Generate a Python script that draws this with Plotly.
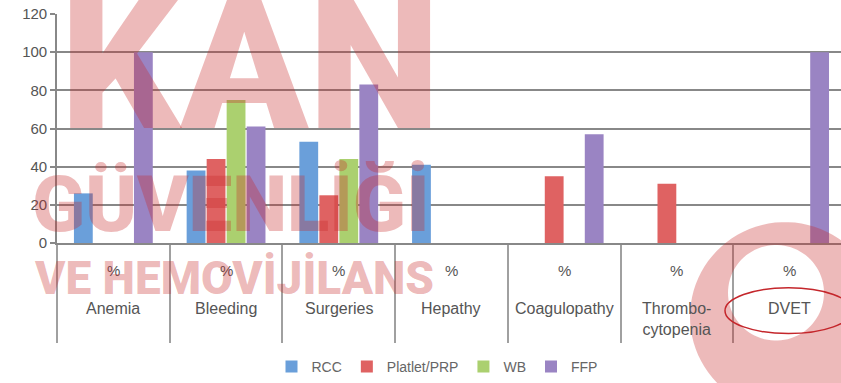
import numpy as np
import plotly.graph_objects as go

# ---------------- data ----------------
categories = ["Anemia", "Bleeding", "Surgeries", "Hepathy", "Coagulopathy",
              "Thrombo-<br>cytopenia", "DVET"]
unit_labels = ["%", "%", "%", "%", "%", "%", "%"]
series_names = ["RCC", "Platlet/PRP", "WB", "FFP"]
rcc = [26, 38, 53, 41, 0, 0, 0]
platelet = [0, 44, 25, 0, 35, 31, 0]
wb = [0, 75, 44, 0, 0, 0, 0]
ffp = [100, 61, 83, 0, 57, 0, 100]
y_ticks = [0, 20, 40, 60, 80, 100, 120]

colors = ["#6a9fda", "#df6262", "#abd06f", "#9a84c3"]
values = [rcc, platelet, wb, ffp]

# ---------------- layout helpers (pixel -> paper) ----------------
W, H = 841, 383
L, R, T, B = 57, 841, 14, 244


def px(x):
    return (x - L) / (R - L)


def py(y):
    return (B - y) / (B - T)


fig = go.Figure()
for name, vals, col in zip(series_names, values, colors):
    fig.add_trace(go.Bar(name=name, x=categories, y=vals, marker_color=col,
                         marker_line_width=0))

grid = "#888888"
fig.update_layout(
    width=W, height=H,
    margin=dict(l=L, r=W - R, t=T, b=H - B),
    paper_bgcolor="white", plot_bgcolor="white",
    barmode="group", bargap=0.29, bargroupgap=0.06,
    font=dict(family="Liberation Sans, Arial, sans-serif", color="#555555"),
    showlegend=True,
    legend=dict(orientation="h", x=px(437), xanchor="center", y=py(368),
                yanchor="middle", font=dict(size=14, color="#666666"),
                itemwidth=30, tracegroupgap=0),
)
fig.update_yaxes(range=[0, 120], tickvals=y_ticks, showgrid=True,
                 gridcolor=grid, gridwidth=1.6, showline=True, linecolor=grid,
                 linewidth=1.6, ticks="outside", ticklen=5, tickcolor=grid,
                 tickwidth=1.6, zeroline=False,
                 tickfont=dict(size=15, color="#555555"))
fig.update_xaxes(type="category", range=[-0.5, 6.456], showgrid=False,
                 showline=True, linecolor=grid, linewidth=1.6,
                 ticks="outside", tickson="boundaries", ticklen=98,
                 tickcolor="#a0a0a0", tickwidth=1.5, showticklabels=False)

# category labels (two levels)
for cat, unit in zip(categories, unit_labels):
    fig.add_annotation(x=cat, xref="x", y=py(261), yref="paper", text=unit,
                       showarrow=False, yanchor="top",
                       font=dict(size=15, color="#555555"))
    fig.add_annotation(x=cat, xref="x", y=py(299), yref="paper", text=cat,
                       showarrow=False, yanchor="top",
                       font=dict(size=16, color="#555555"))

# ---------------- watermark ----------------
wm = "rgba(200,40,40,0.32)"
wm_font = "Roboto, Liberation Sans, Arial, sans-serif"
for text, cx, cy, size in [("KAN", 250, 64, 188),
                           ("GÜVENLİĞİ", 231, 205, 78),
                           ("VE HEMOVİJİLANS", 234, 279, 46)]:
    fig.add_annotation(x=px(cx), y=py(cy), xref="paper", yref="paper",
                       text=text, showarrow=False,
                       xanchor="center", yanchor="middle",
                       font=dict(family=wm_font, size=size, color=wm,
                                 weight=900))


def circle_pts(cx, cy, r, n=90, reverse=False):
    t = np.linspace(0, 2 * np.pi, n, endpoint=False)
    if reverse:
        t = t[::-1]
    xs = px(cx + r * np.cos(t))
    ys = py(cy + r * np.sin(t))
    pts = " L ".join(f"{a:.5f},{b:.5f}" for a, b in zip(xs, ys))
    return "M " + pts + " Z"


crescent = circle_pts(785, 318, 95) + " " + circle_pts(776, 294, 48, reverse=True)
fig.add_shape(type="path", path=crescent, xref="paper", yref="paper",
              fillcolor=wm, line_width=0, layer="above")

# red ellipse around DVET
fig.add_shape(type="circle", xref="paper", yref="paper",
              x0=px(725), x1=px(852), y0=py(289), y1=py(335),
              line=dict(color="#c4262b", width=1.5), layer="above")

fig.write_html("out.html")
